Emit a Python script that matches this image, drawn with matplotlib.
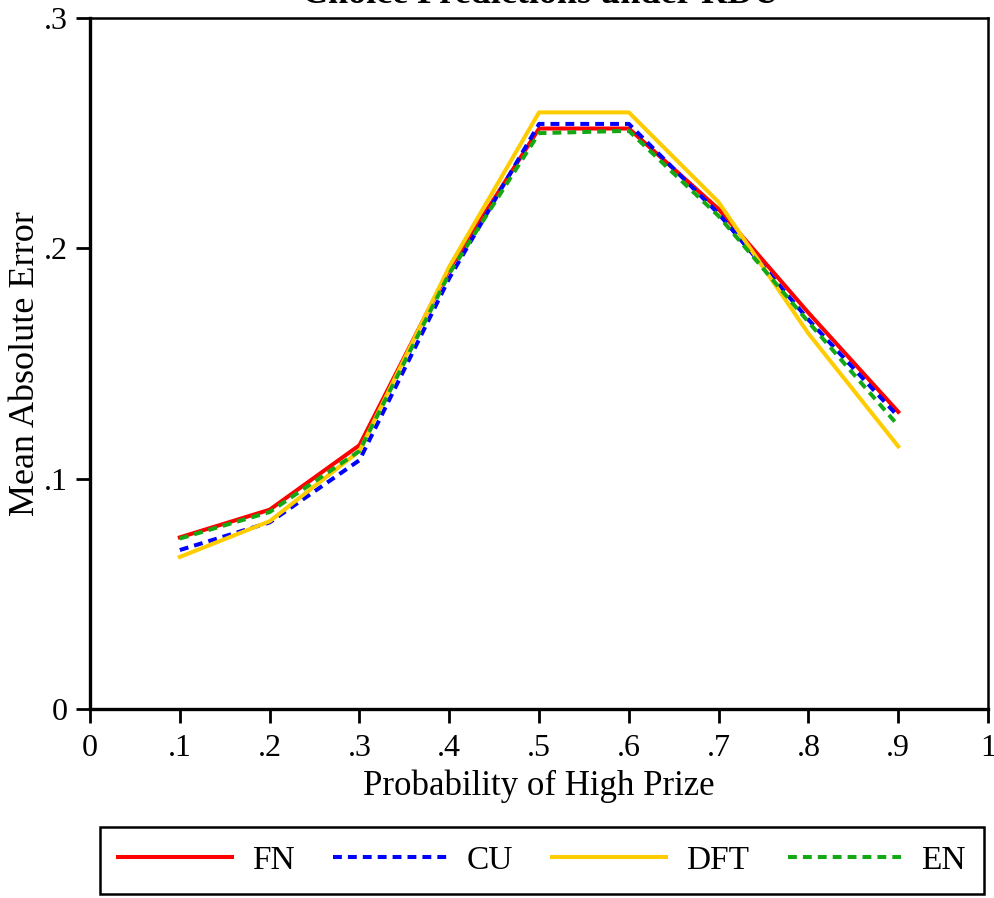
import matplotlib.pyplot as plt

plt.rcParams['font.family'] = ['Liberation Serif', 'DejaVu Serif']

prob = [.1, .2, .3, .4, .5, .6, .7, .8, .9]
fn = [0.0745, 0.0865, 0.1145, 0.191, 0.252, 0.252, 0.217, 0.172, 0.129]
cu = [0.0690, 0.0810, 0.1080, 0.187, 0.254, 0.254, 0.215, 0.169, 0.127]
dft = [0.0660, 0.0815, 0.1120, 0.192, 0.259, 0.259, 0.220, 0.163, 0.114]
en = [0.0740, 0.0855, 0.1120, 0.189, 0.250, 0.251, 0.214, 0.168, 0.123]
xticks = [0, .1, .2, .3, .4, .5, .6, .7, .8, .9, 1]
xlabels = ['0', '.1', '.2', '.3', '.4', '.5', '.6', '.7', '.8', '.9', '1']
yticks = [0, .1, .2, .3]
ylabels = ['0', '.1', '.2', '.3']

fig = plt.figure(figsize=(9.95, 8.98), dpi=100)
ax = fig.add_axes([0.0905, 0.2105, 0.9025, 0.7695])

lw = 2.9
ax.plot(prob, fn, color='#ff0000', lw=lw, label='FN')
ax.plot(prob, cu, color='#0000ff', lw=lw, dashes=(2.2, 1.5), label='CU')
ax.plot(prob, dft, color='#ffcc00', lw=lw, label='DFT')
ax.plot(prob, en, color='#14a814', lw=lw, dashes=(2.2, 1.5), label='EN')

ax.set_xlim(0, 1)
ax.set_ylim(0, 0.3)
ax.set_xticks(xticks, xlabels)
ax.set_yticks(yticks, ylabels)
ax.tick_params(labelsize=23, length=10, width=2, pad=8)
ax.tick_params(axis='y', pad=6)
for s in ['left', 'bottom']:
    ax.spines[s].set_linewidth(2.4)
for s in ['top', 'right']:
    ax.spines[s].set_linewidth(1.8)

ax.set_xlabel('Probability of High Prize', fontsize=25, labelpad=5)
ax.set_ylabel('Mean Absolute Error', fontsize=26)
ax.yaxis.set_label_coords(-0.054, 0.5)

# title sits mostly above the top edge, as in the source image
fig.text(0.543, 0.9965, 'Choice Predictions under RDU', fontsize=26,
         fontweight='bold', ha='center', va='baseline')

leg = fig.legend(loc='center', bbox_to_anchor=(0.1005, 0.004, 0.8885, 0.076),
                 mode='expand', ncol=4, fontsize=24, frameon=True,
                 fancybox=False, framealpha=1, handlelength=3.4,
                 handletextpad=0.6, borderpad=0.55, borderaxespad=0)
leg.get_frame().set_edgecolor('black')
leg.get_frame().set_linewidth(1.8)

fig.savefig('out.png', dpi=100)
